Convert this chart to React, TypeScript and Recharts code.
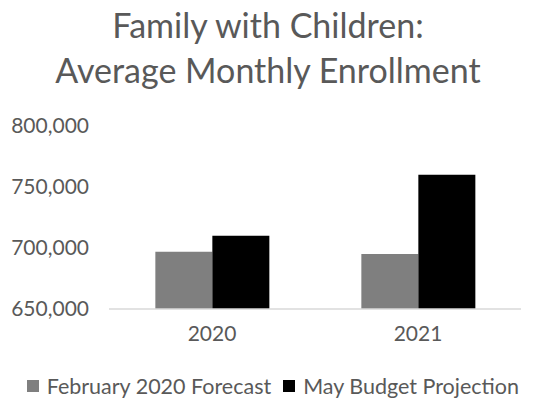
import React from "react";
import { Bar, BarChart, Legend, XAxis, YAxis } from "recharts";

const years = ["2020", "2021"];
const februaryForecast = [697000, 695000];
const mayProjection = [710000, 760000];
const yTicks = [650000, 700000, 750000, 800000];

const data = years.map((year, i) => ({
  year,
  feb: februaryForecast[i],
  may: mayProjection[i],
}));

const FONT = "Lato, 'Open Sans', sans-serif";
const TEXT = "#595959";

const legendItems = [
  { label: "February 2020 Forecast", color: "#7f7f7f" },
  { label: "May Budget Projection", color: "#000000" },
];

function CustomLegend() {
  return (
    <div
      style={{
        display: "flex",
        justifyContent: "flex-end",
        alignItems: "center",
        fontFamily: FONT,
        fontSize: 21.5,
        color: TEXT,
        height: 30,
        paddingRight: 2,
      }}
    >
      {legendItems.map((item) => (
        <span key={item.label} style={{ display: "flex", alignItems: "center", marginLeft: 12 }}>
          <span
            style={{
              display: "inline-block",
              width: 12,
              height: 12,
              background: item.color,
              marginRight: 8,
            }}
          />
          {item.label}
        </span>
      ))}
    </div>
  );
}

export default function App() {
  return (
    <div style={{ position: "absolute", left: 0, top: 0, width: 536, height: 409, background: "#fff" }}>
      <div
        style={{
          position: "absolute",
          top: 2,
          left: 0,
          width: 536,
          textAlign: "center",
          fontFamily: FONT,
          fontSize: 34,
          lineHeight: "45px",
          color: TEXT,
        }}
      >
        Family with Children:
        <br />
        Average Monthly Enrollment
      </div>
      <BarChart
        width={536}
        height={409}
        data={data}
        margin={{ top: 126, right: 15, left: 0, bottom: 40 }}
        barCategoryGap="22.5%"
        barGap={0}
      >
        <XAxis
          dataKey="year"
          axisLine={{ stroke: "#d9d9d9", strokeWidth: 1.5 }}
          tickLine={false}
          tickSize={0}
          tickMargin={17}
          height={30}
          tick={{ fill: TEXT, fontSize: 21, fontFamily: FONT }}
        />
        <YAxis
          domain={[650000, 800000]}
          ticks={yTicks}
          width={109}
          axisLine={false}
          tickLine={false}
          tickSize={0}
          tickMargin={20}
          tickFormatter={(v: number) => v.toLocaleString("en-US")}
          tick={{ fill: TEXT, fontSize: 21, fontFamily: FONT }}
        />
        <Legend verticalAlign="bottom" wrapperStyle={{ bottom: 8 }} content={<CustomLegend />} />
        <Bar dataKey="feb" fill="#7f7f7f" isAnimationActive={false} />
        <Bar dataKey="may" fill="#000000" isAnimationActive={false} />
      </BarChart>
    </div>
  );
}
